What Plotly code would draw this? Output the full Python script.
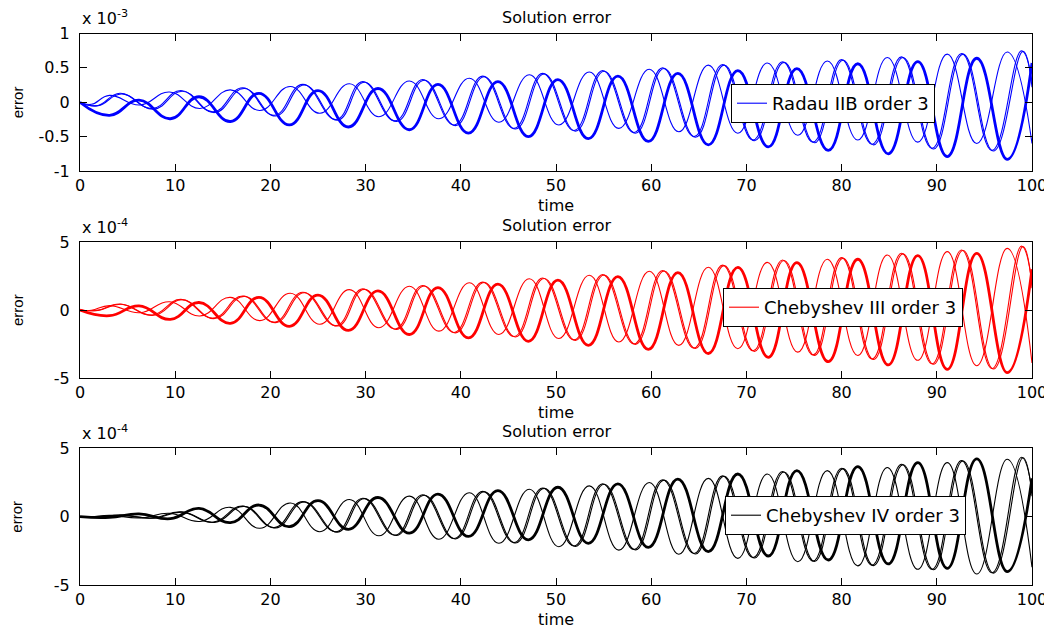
import plotly.graph_objects as go

# ---------------- data (extrema of each curve) ----------------
# times of the extrema of the four error components (same phase pattern in all panels)
t_a = [0, 1.2, 3.1, 6.3, 9.4, 12.6, 15.8, 18.9, 22.1, 25.2, 28.3, 31.4, 34.6, 37.7, 40.9, 44.0,
       47.2, 50.3, 53.5, 56.6, 59.8, 62.9, 66.0, 69.1, 72.2, 75.4, 78.5, 81.7, 84.8, 88.0, 91.1,
       94.2, 97.4, 100]
t_b = [0, 1.8, 4.2, 7.6, 10.6, 14.0, 17.1, 20.4, 23.4, 26.9, 29.7, 33.1, 36.0, 39.3, 42.3, 45.6,
       48.6, 51.9, 54.9, 58.2, 61.2, 64.5, 67.5, 70.7, 73.8, 77.0, 80.0, 83.2, 86.3, 89.5, 92.6,
       95.8, 98.9, 100]
t_c = [0, 1.9, 4.35, 7.75, 10.75, 14.15, 17.25, 20.55, 23.55, 27.05, 29.85, 33.25, 36.15, 39.45,
       42.45, 45.75, 48.75, 52.05, 55.05, 58.35, 61.35, 64.65, 67.65, 70.85, 73.95, 77.15, 80.15,
       83.35, 86.45, 89.65, 92.75, 95.95, 99.05, 100]
t_d = [0, 3.1, 6.2, 9.5, 12.5, 15.8, 18.8, 22.0, 25.0, 28.2, 31.3, 34.6, 37.6, 40.8, 43.9, 47.1,
       50.2, 53.4, 56.5, 59.7, 62.8, 66.0, 69.1, 72.3, 75.3, 78.6, 81.7, 84.9, 88.0, 91.1, 94.2,
       97.4, 100]

# Panel 1: Radau IIB order 3 (units of 1e-3)
radau_a = [0, -0.03, 0.10, -0.04, 0.15, -0.09, 0.18, -0.12, 0.23, -0.16, 0.27, -0.21, 0.31, -0.24,
           0.35, -0.29, 0.40, -0.33, 0.44, -0.38, 0.48, -0.43, 0.54, -0.45, 0.57, -0.48, 0.60,
           -0.55, 0.65, -0.58, 0.70, -0.60, 0.73, -0.60]
radau_b = [0, -0.05, 0.13, -0.09, 0.17, -0.14, 0.21, -0.19, 0.26, -0.25, 0.30, -0.27, 0.33, -0.33,
           0.38, -0.38, 0.42, -0.41, 0.46, -0.44, 0.50, -0.50, 0.55, -0.55, 0.59, -0.58, 0.62,
           -0.61, 0.66, -0.67, 0.71, -0.70, 0.75, 0.30]
radau_c = [0, -0.05, 0.12, -0.10, 0.16, -0.15, 0.20, -0.20, 0.25, -0.26, 0.29, -0.28, 0.32, -0.34,
           0.37, -0.39, 0.41, -0.42, 0.45, -0.45, 0.49, -0.51, 0.54, -0.56, 0.58, -0.59, 0.61,
           -0.62, 0.65, -0.68, 0.70, -0.71, 0.74, 0.22]
radau_d = [0, -0.19, 0.03, -0.24, 0.08, -0.28, 0.13, -0.33, 0.17, -0.36, 0.20, -0.40, 0.26, -0.45,
           0.30, -0.50, 0.33, -0.53, 0.38, -0.57, 0.42, -0.62, 0.46, -0.65, 0.49, -0.70, 0.56,
           -0.75, 0.59, -0.79, 0.64, -0.83, 0.57]

# Panel 2: Chebyshev III order 3 (units of 1e-4)
cheb3_a = [0, -0.02, 0.32, -0.20, 0.61, -0.44, 0.93, -0.78, 1.23, -1.05, 1.50, -1.30, 1.75, -1.55,
           2.00, -1.80, 2.30, -2.10, 2.55, -2.35, 2.85, -2.60, 3.14, -2.85, 3.50, -3.10, 3.73,
           -3.35, 4.04, -3.70, 4.29, -4.10, 4.53, -3.90]
cheb3_b = [0, -0.03, 0.44, -0.37, 0.78, -0.60, 1.03, -0.90, 1.30, -1.15, 1.55, -1.40, 1.80, -1.65,
           2.05, -1.95, 2.35, -2.20, 2.60, -2.50, 2.90, -2.80, 3.30, -3.00, 3.68, -3.30, 3.85,
           -3.60, 4.17, -3.95, 4.41, -4.30, 4.70, 2.00]
cheb3_c = [0, -0.03, 0.42, -0.39, 0.75, -0.63, 1.00, -0.93, 1.27, -1.18, 1.52, -1.43, 1.77, -1.68,
           2.02, -1.98, 2.32, -2.23, 2.57, -2.53, 2.87, -2.83, 3.26, -3.04, 3.64, -3.34, 3.81,
           -3.64, 4.13, -3.99, 4.37, -4.34, 4.66, 1.60]
cheb3_d = [0, -0.42, 0.30, -0.69, 0.55, -0.98, 0.93, -1.20, 1.10, -1.50, 1.40, -1.80, 1.65, -2.05,
           1.90, -2.30, 2.20, -2.60, 2.45, -2.90, 2.75, -3.20, 3.14, -3.48, 3.48, -3.80, 3.73,
           -4.04, 4.00, -4.36, 4.17, -4.60, 3.00]

# Panel 3: Chebyshev IV order 3 (units of 1e-4)
cheb4_a = [0, -0.01, 0.10, -0.10, 0.25, -0.35, 0.68, -0.85, 1.00, -1.10, 1.25, -1.40, 1.50, -1.65,
           1.75, -1.95, 2.00, -2.20, 2.25, -2.45, 2.50, -2.75, 2.80, -3.05, 3.12, -3.30, 3.37,
           -3.60, 3.60, -3.85, 3.95, -4.20, 4.20, -3.70]
cheb4_b = [0, -0.01, 0.12, -0.10, 0.35, -0.40, 0.78, -0.80, 1.10, -1.10, 1.35, -1.35, 1.60, -1.60,
           1.85, -1.90, 2.10, -2.15, 2.40, -2.40, 2.70, -2.70, 2.98, -3.00, 3.30, -3.25, 3.54,
           -3.55, 3.83, -3.85, 4.10, -4.10, 4.34, 1.90]
cheb4_c = [0, -0.01, 0.11, -0.11, 0.33, -0.42, 0.75, -0.83, 1.07, -1.13, 1.32, -1.38, 1.57, -1.63,
           1.82, -1.93, 2.07, -2.18, 2.37, -2.43, 2.67, -2.73, 2.95, -3.03, 3.27, -3.28, 3.51,
           -3.58, 3.80, -3.88, 4.07, -4.13, 4.31, 1.50]
cheb4_d = [0, -0.05, 0.20, -0.15, 0.60, -0.44, 0.85, -0.73, 1.17, -0.93, 1.40, -1.20, 1.65, -1.45,
           1.90, -1.70, 2.15, -1.95, 2.40, -2.25, 2.75, -2.56, 3.12, -2.88, 3.37, -3.17, 3.66,
           -3.46, 3.95, -3.78, 4.22, -4.02, 2.80]

legend_names = ["Radau IIB order 3", "Chebyshev III order 3", "Chebyshev IV order 3"]
colors = ["#0000ff", "#ff0000", "#000000"]
exponents = ["-3", "-4", "-4"]
y_ticks = [[-1, -0.5, 0, 0.5, 1], [-5, 0, 5], [-5, 0, 5]]
y_ranges = [[-1, 1], [-5, 5], [-5, 5]]
x_ticks = [0, 10, 20, 30, 40, 50, 60, 70, 80, 90, 100]

panels = [
    (radau_a, radau_b, radau_c, radau_d),
    (cheb3_a, cheb3_b, cheb3_c, cheb3_d),
    (cheb4_a, cheb4_b, cheb4_c, cheb4_d),
]

# ---------------- layout geometry ----------------
# The html body has an 8px margin, so the figure is drawn 8px in from the page corner.
OFF = 8
W, H = 1052 - OFF, 628 - OFF
panel_px = [(33.5, 171), (242, 378), (448.3, 585)]  # (top, bottom) in page pixels
legend_px = [(935, 84), (963, 288), (966, 496)]  # (right, top) page px

FONT = "DejaVu Sans, Liberation Sans, Arial, sans-serif"
FONT2 = "Liberation Sans, Arial, sans-serif"


def px(xp):
    return (xp - OFF) / W


def py(yp):
    return (H - (yp - OFF)) / H


fig = go.Figure()
annotations = []
layout_axes = {}

for i, (ya, yb, yc, yd) in enumerate(panels):
    n = i + 1
    xa = "x" if n == 1 else f"x{n}"
    yax = "y" if n == 1 else f"y{n}"
    leg = "legend" if n == 1 else f"legend{n}"
    col = colors[i]
    series = [(t_a, ya, 1.1, True), (t_b, yb, 1.1, False), (t_c, yc, 1.1, False),
              (t_d, yd, 2.8, False)]
    for tt, vv, lw, show in series:
        fig.add_trace(go.Scatter(
            x=tt, y=vv, mode="lines",
            line=dict(color=col, width=lw, shape="spline", smoothing=1.3),
            name=legend_names[i], showlegend=show, legend=leg,
            xaxis=xa, yaxis=yax, hoverinfo="skip"))

    top, bot = panel_px[i]
    axis_common = dict(showline=True, linecolor="black", linewidth=1, mirror="ticks",
                       ticks="inside", ticklen=7, tickcolor="black", showgrid=False,
                       zeroline=False, automargin=False,
                       tickfont=dict(family=FONT, size=16, color="black"))
    layout_axes["xaxis" if n == 1 else f"xaxis{n}"] = dict(
        domain=[px(80), px(1032)], range=[0, 100], anchor=yax,
        tickvals=x_ticks, ticktext=[str(v) for v in x_ticks], ticklabelstandoff=0,
        **axis_common)
    layout_axes["yaxis" if n == 1 else f"yaxis{n}"] = dict(
        domain=[py(bot), py(top)], range=y_ranges[i], anchor=xa, ticklabelstandoff=6,
        tickvals=y_ticks[i], ticktext=[("%g" % v) for v in y_ticks[i]], **axis_common)

    # legend
    lr, lt = legend_px[i]
    layout_axes[leg] = dict(x=px(lr), y=py(lt), xanchor="right", yanchor="top",
                            bgcolor="white", bordercolor="black", borderwidth=1,
                            font=dict(family=FONT, size=18, color="black"))

    # title, x label, y label, exponent
    annotations.append(dict(text="Solution error", x=px(556), y=py(top - 16.5),
                            xref="paper", yref="paper",
                            showarrow=False, xanchor="center", yanchor="middle",
                            font=dict(family=FONT, size=16, color="black")))
    annotations.append(dict(text="time", x=px(556), y=py(bot + 34),
                            xref="paper", yref="paper",
                            showarrow=False, xanchor="center", yanchor="middle",
                            font=dict(family=FONT, size=16, color="black")))
    annotations.append(dict(text="error", x=px(17), y=py((top + bot) / 2),
                            xref="paper", yref="paper", showarrow=False, textangle=-90,
                            xanchor="center", yanchor="middle",
                            font=dict(family=FONT2, size=15, color="black")))
    annotations.append(dict(text=f"x 10<sup>{exponents[i]}</sup>", x=px(80),
                            y=py(top - 3), xref="paper", yref="paper",
                            showarrow=False, xanchor="left", yanchor="bottom",
                            font=dict(family=FONT, size=16, color="black")))

fig.update_layout(
    width=W, height=H, margin=dict(l=0, r=0, t=0, b=0, autoexpand=False),
    paper_bgcolor="white", plot_bgcolor="white",
    annotations=annotations, **layout_axes)

fig.write_html("out.html")
